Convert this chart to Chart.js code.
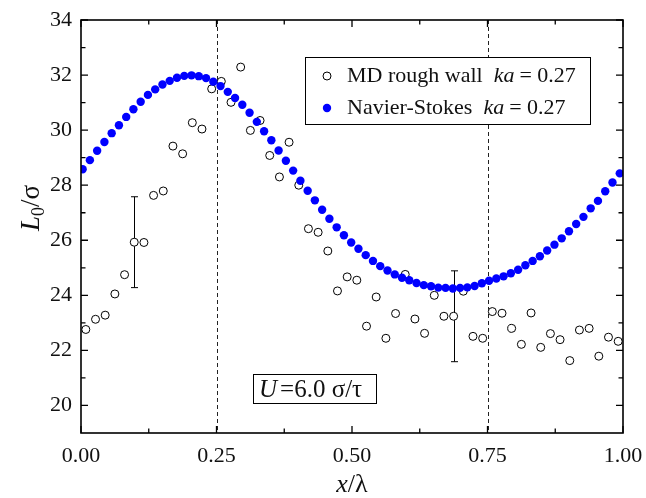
<!DOCTYPE html>
<html>
<head>
<meta charset="utf-8">
<script src="https://cdn.jsdelivr.net/npm/chart.js@4.4.1/dist/chart.umd.min.js"></script>
<style>
  html, body { margin: 0; padding: 0; background: #fff; }
  #wrap { width: 646px; height: 498px; }
</style>
</head>
<body>
<div id="wrap"><canvas id="chart1" width="646" height="498"></canvas></div>
<script>
// MD rough wall, ka = 0.27
const mdX = [
  0.0089, 0.0268, 0.0446, 0.0625, 0.0804, 0.0982, 0.1161, 0.1339, 0.1518, 0.1696,
  0.1875, 0.2054, 0.2232, 0.2411, 0.2589, 0.2768, 0.2946, 0.3125, 0.3304, 0.3482,
  0.3661, 0.3839, 0.4018, 0.4196, 0.4375, 0.4554, 0.4732, 0.4911, 0.5089, 0.5268,
  0.5446, 0.5625, 0.5804, 0.5982, 0.6161, 0.6339, 0.6518, 0.6696, 0.6875, 0.7054,
  0.7232, 0.7411, 0.7589, 0.7768, 0.7946, 0.8125, 0.8304, 0.8482, 0.8661, 0.8839,
  0.9018, 0.9196, 0.9375, 0.9554, 0.9732, 0.9911,
];
const mdY = [
  22.76, 23.13, 23.28, 24.05, 24.75, 25.93, 25.92, 27.63, 27.79, 29.42,
  29.14, 30.27, 30.04, 31.50, 31.77, 31.01, 32.29, 29.99, 30.35, 29.08,
  28.30, 29.56, 28.00, 26.42, 26.29, 25.61, 24.16, 24.67, 24.55, 22.88,
  23.94, 22.44, 23.34, 24.76, 23.14, 22.62, 24.00, 23.24, 23.24, 24.15,
  22.51, 22.44, 23.41, 23.35, 22.80, 22.22, 23.36, 22.11, 22.61, 22.39,
  21.63, 22.74, 22.80, 21.79, 22.48, 22.33,
];
// error bars on two of the MD points (index into mdX/mdY, half height)
const errIdx = [5, 38];
const errHalf = [1.65, 1.65];

// Navier-Stokes, ka = 0.27
const nsX = [
  0.0030, 0.0164, 0.0298, 0.0432, 0.0566, 0.0700, 0.0834, 0.0967, 0.1101, 0.1235,
  0.1369, 0.1503, 0.1637, 0.1771, 0.1905, 0.2039, 0.2173, 0.2307, 0.2441, 0.2574,
  0.2708, 0.2842, 0.2976, 0.3110, 0.3244, 0.3378, 0.3512, 0.3646, 0.3780, 0.3914,
  0.4048, 0.4182, 0.4315, 0.4449, 0.4583, 0.4717, 0.4851, 0.4985, 0.5119, 0.5253,
  0.5387, 0.5521, 0.5655, 0.5789, 0.5922, 0.6056, 0.6190, 0.6324, 0.6458, 0.6592,
  0.6726, 0.6860, 0.6994, 0.7128, 0.7262, 0.7396, 0.7529, 0.7663, 0.7797, 0.7931,
  0.8065, 0.8199, 0.8333, 0.8467, 0.8601, 0.8735, 0.8869, 0.9003, 0.9136, 0.9270,
  0.9404, 0.9538, 0.9672, 0.9806, 0.9940,
];
const nsY = [
  28.58, 28.91, 29.25, 29.57, 29.89, 30.18, 30.48, 30.76, 31.03, 31.28,
  31.48, 31.66, 31.79, 31.90, 31.97, 31.99, 31.96, 31.89, 31.76, 31.60,
  31.39, 31.17, 30.92, 30.63, 30.30, 29.96, 29.63, 29.26, 28.89, 28.53,
  28.16, 27.80, 27.45, 27.11, 26.78, 26.47, 26.18, 25.92, 25.69, 25.46,
  25.25, 25.06, 24.90, 24.76, 24.64, 24.55, 24.45, 24.37, 24.33, 24.28,
  24.27, 24.25, 24.27, 24.29, 24.34, 24.44, 24.53, 24.61, 24.69, 24.80,
  24.93, 25.09, 25.25, 25.42, 25.63, 25.84, 26.07, 26.33, 26.59, 26.85,
  27.16, 27.43, 27.78, 28.10, 28.43,
];

const xTicks = [0, 0.25, 0.5, 0.75, 1];
const xMinor = [0.125, 0.375, 0.625, 0.875];
const yTicks = [20, 22, 24, 26, 28, 30, 32, 34];
const yMinor = [21, 23, 25, 27, 29, 31, 33];
const dashedAt = [0.25, 0.75];

const SERIF = "'Liberation Serif', 'Times New Roman', serif";
const ctx1 = document.getElementById("chart1");

// frame, inward ticks, dashed guides, error bars, legend and annotations
const extras = {
  id: "extras",
  beforeDatasetsDraw(chart) {
    const c = chart.ctx;
    const a = chart.chartArea;
    const xs = chart.scales.x;
    const ys = chart.scales.y;
    c.save();
    c.strokeStyle = "#222";
    c.lineWidth = 1;
    c.setLineDash([4, 3]);
    dashedAt.forEach((v) => {
      const px = Math.round(xs.getPixelForValue(v)) + 0.5;
      c.beginPath();
      c.moveTo(px, a.top);
      c.lineTo(px, a.bottom);
      c.stroke();
    });
    c.setLineDash([]);
    c.strokeStyle = "#000";
    errIdx.forEach((idx, k) => {
      const px = Math.round(xs.getPixelForValue(mdX[idx])) + 0.5;
      const top = ys.getPixelForValue(mdY[idx] + errHalf[k]);
      const bot = ys.getPixelForValue(mdY[idx] - errHalf[k]);
      c.beginPath();
      c.moveTo(px, top);
      c.lineTo(px, bot);
      c.moveTo(px - 3.5, top);
      c.lineTo(px + 3.5, top);
      c.moveTo(px - 3.5, bot);
      c.lineTo(px + 3.5, bot);
      c.stroke();
    });
    c.restore();
  },
  afterDatasetsDraw(chart) {
    const c = chart.ctx;
    const a = chart.chartArea;
    const xs = chart.scales.x;
    const ys = chart.scales.y;
    c.save();
    c.strokeStyle = "#000";
    c.lineWidth = 1.6;
    c.strokeRect(a.left, a.top, a.right - a.left, a.bottom - a.top);
    c.lineWidth = 1.3;
    c.beginPath();
    const xTick = (v, len) => {
      const px = xs.getPixelForValue(v);
      c.moveTo(px, a.bottom);
      c.lineTo(px, a.bottom - len);
      c.moveTo(px, a.top);
      c.lineTo(px, a.top + len);
    };
    const yTick = (v, len) => {
      const py = ys.getPixelForValue(v);
      c.moveTo(a.left, py);
      c.lineTo(a.left + len, py);
      c.moveTo(a.right, py);
      c.lineTo(a.right - len, py);
    };
    xTicks.forEach((v) => xTick(v, 7));
    xMinor.forEach((v) => xTick(v, 4.5));
    yTicks.forEach((v) => yTick(v, 7));
    yMinor.forEach((v) => yTick(v, 4.5));
    c.stroke();
    c.restore();
  },
  afterDraw(chart) {
    const c = chart.ctx;
    c.save();
    c.fillStyle = "#111";
    c.textBaseline = "alphabetic";

    // legend box
    c.fillStyle = "#fff";
    c.fillRect(305.5, 57.5, 285, 67);
    c.strokeStyle = "#000";
    c.lineWidth = 1;
    c.strokeRect(305.5, 57.5, 285, 67);

    c.beginPath();
    c.arc(327, 76, 4, 0, Math.PI * 2);
    c.fillStyle = "#fff";
    c.fill();
    c.strokeStyle = "#000";
    c.stroke();
    c.beginPath();
    c.arc(327, 108, 4.2, 0, Math.PI * 2);
    c.fillStyle = "#0000ff";
    c.fill();

    const legendRow = (label, y) => {
      c.fillStyle = "#111";
      c.font = `22px ${SERIF}`;
      c.fillText(label, 347, y);
      let x = 347 + c.measureText(label).width + 11;
      c.font = `italic 22px ${SERIF}`;
      c.fillText("ka", x, y);
      x += c.measureText("ka").width + 5;
      c.font = `22px ${SERIF}`;
      c.fillText("= 0.27", x, y);
    };
    legendRow("MD rough wall", 82);
    legendRow("Navier-Stokes", 114);

    // velocity box
    c.fillStyle = "#fff";
    c.fillRect(253.5, 374.5, 123, 29);
    c.strokeStyle = "#000";
    c.strokeRect(253.5, 374.5, 123, 29);
    c.fillStyle = "#111";
    c.font = `italic 25px ${SERIF}`;
    c.fillText("U", 259, 397);
    let ux = 259 + c.measureText("U").width + 3;
    c.font = `25px ${SERIF}`;
    c.fillText("=6.0 \u03c3/\u03c4", ux, 397);

    // x axis title
    c.font = `italic 26px ${SERIF}`;
    const wx = c.measureText("x").width;
    c.font = `26px ${SERIF}`;
    const wl = c.measureText("/\u03bb").width;
    let tx = 352 - (wx + wl) / 2;
    c.font = `italic 26px ${SERIF}`;
    c.fillText("x", tx, 492);
    c.font = `26px ${SERIF}`;
    c.fillText("/\u03bb", tx + wx, 492);

    // y axis title
    c.translate(39, 208);
    c.rotate(-Math.PI / 2);
    c.font = `italic 27px ${SERIF}`;
    const wL = c.measureText("L").width;
    c.font = `18px ${SERIF}`;
    const w0 = c.measureText("0").width;
    c.font = `27px ${SERIF}`;
    const ws = c.measureText("/\u03c3").width;
    let ty = -(wL + w0 + ws) / 2;
    c.font = `italic 27px ${SERIF}`;
    c.fillText("L", ty, 0);
    c.font = `18px ${SERIF}`;
    c.fillText("0", ty + wL, 5);
    c.font = `27px ${SERIF}`;
    c.fillText("/\u03c3", ty + wL + w0, 0);
    c.restore();
  },
};

new Chart(ctx1, {
  type: "scatter",
  data: {
    datasets: [
      {
        label: "MD rough wall",
        data: mdX.map((x, i) => ({ x: x, y: mdY[i] })),
        pointRadius: 4,
        pointBackgroundColor: "#fff",
        pointBorderColor: "#000",
        pointBorderWidth: 1,
        order: 1,
      },
      {
        label: "Navier-Stokes",
        data: nsX.map((x, i) => ({ x: x, y: nsY[i] })),
        pointRadius: 4.2,
        pointBackgroundColor: "#0000ff",
        pointBorderWidth: 0,
        clip: 0,
        order: 0,
      },
    ],
  },
  options: {
    responsive: false,
    animation: false,
    events: [],
    layout: {
      padding: { top: 20, right: 23, left: 0, bottom: 0 },
    },
    plugins: {
      legend: { display: false },
      tooltip: { enabled: false },
    },
    scales: {
      x: {
        type: "linear",
        min: 0,
        max: 1,
        afterBuildTicks: (s) => {
          s.ticks = xTicks.map((v) => ({ value: v }));
        },
        afterFit: (s) => {
          s.height = 65;
          s.paddingLeft = 0;
          s.paddingRight = 0;
        },
        grid: { display: false, drawTicks: false },
        border: { display: false },
        ticks: {
          padding: 10,
          color: "#111",
          font: { family: SERIF, size: 22 },
          maxRotation: 0,
          callback: (v) => Number(v).toFixed(2),
        },
      },
      y: {
        type: "linear",
        min: 19,
        max: 34,
        afterBuildTicks: (s) => {
          s.ticks = yTicks.map((v) => ({ value: v }));
        },
        afterFit: (s) => {
          s.width = 81;
          s.paddingTop = 0;
          s.paddingBottom = 0;
        },
        grid: { display: false, drawTicks: false },
        border: { display: false },
        ticks: {
          padding: 9,
          color: "#111",
          font: { family: SERIF, size: 22 },
        },
      },
    },
  },
  plugins: [extras],
});
</script>
</body>
</html>
